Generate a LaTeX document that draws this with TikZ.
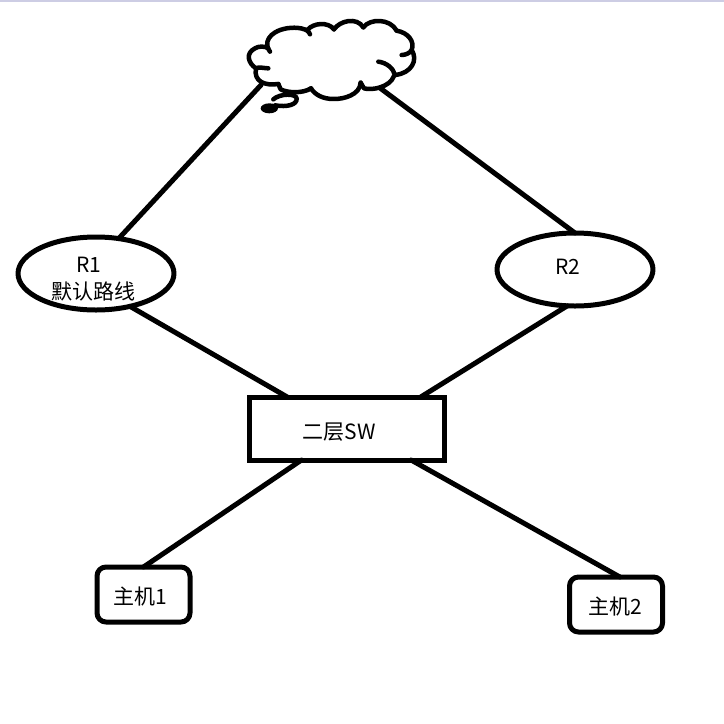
\documentclass[tikz,border=0pt]{standalone}
\usepackage{fontspec}
\setmainfont{Noto Sans CJK SC}
\usetikzlibrary{shapes.geometric,calc}
\definecolor{topbar}{RGB}{205,205,228}
\tikzset{
  ink/.style={line width=5pt,black,line cap=round,line join=round},
  router/.style={ink,draw,ellipse,minimum width=156pt,minimum height=73pt,inner sep=0pt,outer sep=0pt},
  switchbox/.style={ink,draw,rectangle,line cap=butt,line join=miter,minimum width=195pt,minimum height=63pt,inner sep=0pt,outer sep=0pt},
  hostbox/.style={ink,draw,rectangle,rounded corners=9pt,minimum width=93pt,minimum height=55pt,inner sep=0pt,outer sep=0pt},
  txt/.style={font=\fontsize{21pt}{23pt}\selectfont,inner sep=0pt,text=black},
  link/.style={line width=5pt,black,line cap=round}
}
\begin{document}
\begin{tikzpicture}[x=1pt,y=-1pt]
\useasboundingbox (0,0) rectangle (724,724);
\fill[topbar] (0,0) rectangle (724,2);
% nodes
\node[router] (r1) at (96,273.5) {};
\node[router] (r2) at (575,269.5) {};
\node[switchbox] (sw) at (346.5,428.5) {};
\node[hostbox] (h1) at (143.5,594.5) {};
\node[hostbox] (h2) at (616,604.5) {};
\node[txt] (tr1) at (89,265) {R1};
\node[txt] (tr1b) at (94,291) {默认路线};
\node[txt] (tr2) at (568,267) {R2};
\node[txt] (tsw) at (339,432) {二层SW};
\node[txt] (th1) at (140,597) {主机1};
\node[txt] (th2) at (615,607) {主机2};
% cloud
\coordinate (cl) at (261,85);
\coordinate (cr) at (380,88);
\begin{scope}[shift={(230,0)},x=0.3333pt,y=-0.3333pt,ink,line width=4.5pt]
\draw (120,155) .. controls (100,130) and (115,95) .. (170,85)
  .. controls (200,80) and (235,85) .. (240,103);
\draw (232,90) .. controls (250,68) and (295,65) .. (312,88);
\draw (312,88) .. controls (330,62) and (380,50) .. (400,82);
\draw (400,82) .. controls (420,55) and (480,55) .. (500,92);
\draw (500,92) .. controls (535,98) and (555,125) .. (545,150)
  .. controls (540,160) and (525,165) .. (515,165);
\draw (545,150) .. controls (565,180) and (545,220) .. (495,225);
\draw (445,185) .. controls (470,188) and (490,205) .. (495,225);
\draw (492,228) .. controls (480,262) and (425,272) .. (402,265) -- (392,248);
\draw (392,248) .. controls (390,285) and (340,298) .. (310,297)
  .. controls (280,297) and (255,285) .. (243,265);
\draw (243,265) .. controls (220,280) and (175,280) .. (152,268) -- (145,252);
\draw (145,252) .. controls (105,258) and (70,245) .. (78,205)
  .. controls (85,200) and (105,205) .. (115,205);
\draw (78,205) .. controls (55,190) and (45,160) .. (75,145)
  .. controls (85,138) and (105,138) .. (115,145);
% thought bubble
\draw (130,298) .. controls (150,280) and (198,280) .. (200,295)
  .. controls (202,315) and (170,322) .. (135,316);
\fill[black] (118,325) ellipse [x radius=26,y radius=15];
\end{scope}
% connectors
\draw[link] (r1.57) -- (cl);
\draw[link] (r2.north) -- (cr);
\draw[link] (r1.-44) -- (sw.152.1);
\draw[link] (r2.-102) -- (sw.23);
\draw[link] (sw.215) -- (h1.north);
\draw[link] (sw.-26) -- (h2.82);
\end{tikzpicture}
\end{document}
